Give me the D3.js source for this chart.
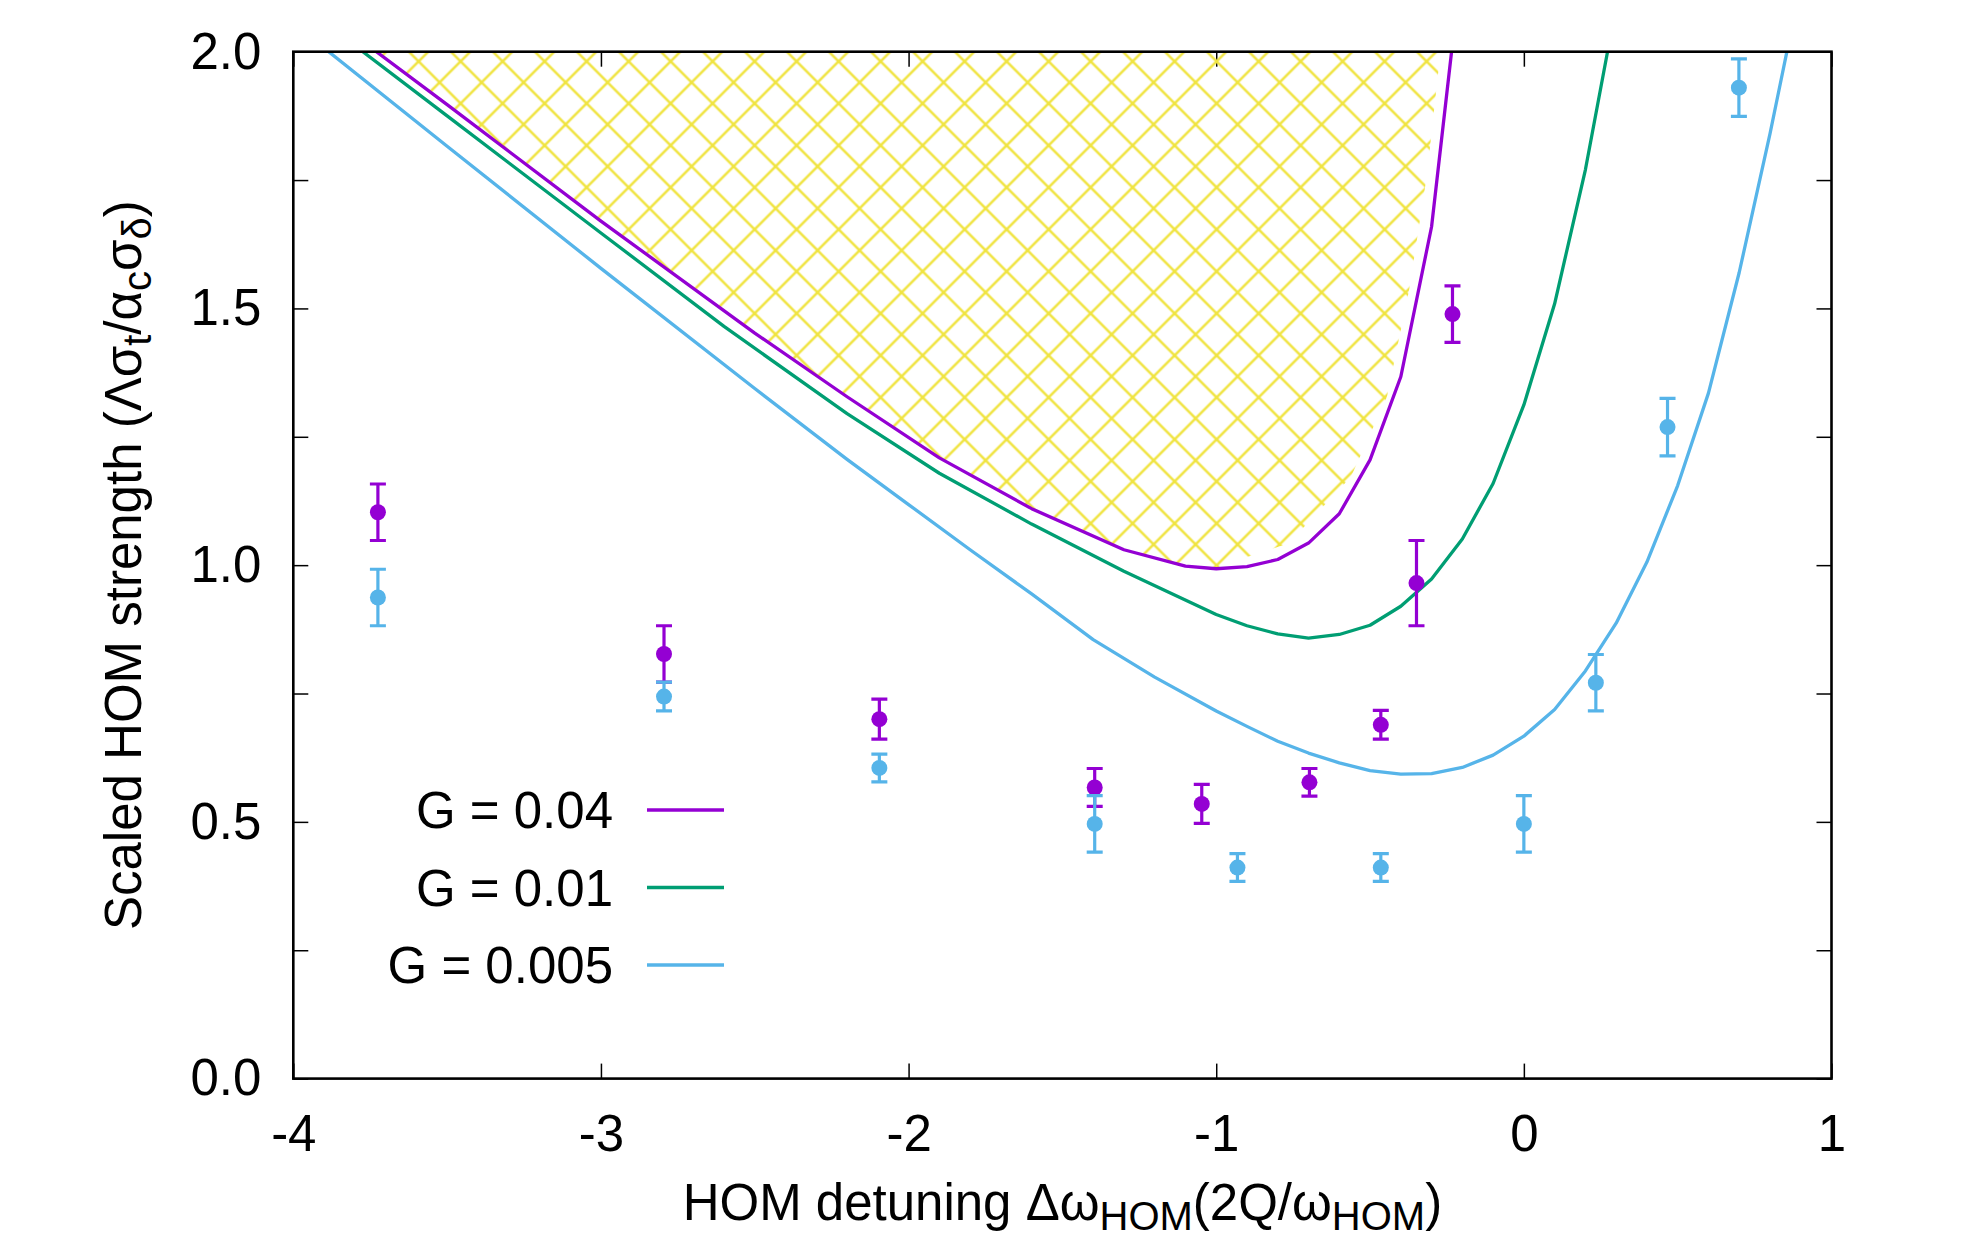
<!DOCTYPE html>
<meta charset="utf-8">
<style>
body { margin: 0; background: #fff; }
svg { display: block; }
text { font-family: "Liberation Sans", Arial, sans-serif; fill: #000; }
.axis path { display: none; }
.axis line { stroke: #000; stroke-width: 1.5; }
.axis text { font-size: 51px; }
.frame { fill: none; stroke: #000; stroke-width: 2.6; }
.curve { fill: none; stroke-width: 3.3; stroke-linejoin: round; }
.legend text { font-size: 51px; }
.title { font-size: 51px; }
</style>
<svg width="1973" height="1241"></svg>
<script src="https://d3js.org/d3.v7.min.js"></script>
<script>
// tick values
var xTicks = [-4, -3, -2, -1, 0, 1];
var yTicks = [0, 0.25, 0.5, 0.75, 1, 1.25, 1.5, 1.75, 2];

var legendLabels = ["G = 0.04", "G = 0.01", "G = 0.005"];
var colors = ["#9400d3", "#009e73", "#56b4e9"];

// model curves
var g04X = [-3.73, -3.5, -3.0, -2.5, -2.2, -1.9, -1.6, -1.3, -1.1, -1.0, -0.9, -0.8, -0.7, -0.6, -0.5, -0.4, -0.3, -0.235];
var g04Y = [2.0, 1.897, 1.670, 1.452, 1.328, 1.209, 1.110, 1.030, 0.998, 0.993, 0.997, 1.011, 1.043, 1.100, 1.205, 1.367, 1.659, 2.0];

var g01X = [-3.774, -3.5, -3.0, -2.6, -2.2, -1.9, -1.6, -1.3, -1.0, -0.9, -0.8, -0.7, -0.6, -0.5, -0.4, -0.3, -0.2, -0.1, 0.0, 0.1, 0.2, 0.272];
var g01Y = [2.0, 1.875, 1.647, 1.465, 1.295, 1.179, 1.080, 0.988, 0.904, 0.882, 0.866, 0.858, 0.865, 0.883, 0.920, 0.973, 1.051, 1.159, 1.312, 1.509, 1.77, 2.0];

var g005X = [-3.885, -3.5, -3.0, -2.5, -2.2, -2.0, -1.8, -1.6, -1.4, -1.2, -1.0, -0.9, -0.8, -0.7, -0.6, -0.5, -0.4, -0.3, -0.2, -0.1, 0.0, 0.1, 0.2, 0.3, 0.4, 0.5, 0.6, 0.7, 0.8, 0.855];
var g005Y = [2.0, 1.816, 1.578, 1.344, 1.206, 1.118, 1.030, 0.944, 0.855, 0.782, 0.716, 0.686, 0.657, 0.634, 0.615, 0.600, 0.593, 0.594, 0.606, 0.630, 0.667, 0.719, 0.794, 0.887, 1.006, 1.155, 1.335, 1.57, 1.84, 2.0];

// right edge of the hatched region
var hatchEdgeX = [-0.983, -0.765, -0.562, -0.445, -0.373, -0.315, -0.271];
var hatchEdgeY = [1.0, 1.042, 1.172, 1.328, 1.536, 1.76, 2.0];

// measurements
var pts04X = [-3.725, -2.795, -2.095, -1.395, -1.047, -0.697, -0.465, -0.349, -0.232];
var pts04Y = [1.103, 0.827, 0.700, 0.567, 0.535, 0.577, 0.689, 0.965, 1.489];
var pts04Err = [0.055, 0.055, 0.039, 0.037, 0.038, 0.027, 0.028, 0.083, 0.055];

var pts005X = [-3.725, -2.795, -2.095, -1.395, -0.931, -0.465, 0.0, 0.234, 0.467, 0.699];
var pts005Y = [0.937, 0.744, 0.605, 0.496, 0.411, 0.411, 0.496, 0.771, 1.269, 1.930];
var pts005Err = [0.055, 0.028, 0.027, 0.055, 0.027, 0.027, 0.055, 0.055, 0.056, 0.056];

var svg = d3.select("svg"),
  margin = {top: 51.7, right: 141.5, bottom: 162.4, left: 293.3},
  width = 1973 - margin.left - margin.right,
  height = 1241 - margin.top - margin.bottom;

var x = d3.scaleLinear().domain([-4, 1]).range([0, width]);
var y = d3.scaleLinear().domain([0, 2]).range([height, 0]);

var defs = svg.append("defs");
defs.append("clipPath").attr("id", "clip")
  .append("rect").attr("width", width).attr("height", height);

var pat = defs.append("pattern")
  .attr("id", "hatch")
  .attr("patternUnits", "userSpaceOnUse")
  .attr("x", margin.left).attr("y", margin.top)
  .attr("width", 42).attr("height", 42);
pat.append("path")
  .attr("d", "M-2,-2L44,44M-2,44L44,-2")
  .attr("stroke", "#f0e442")
  .attr("stroke-width", 2.6)
  .attr("fill", "none");

var g = svg.append("g")
  .attr("transform", "translate(" + margin.left + "," + margin.top + ")");

// axes, ticks inward on all four sides
var fmtY = function(d) { return (d * 2) % 1 === 0 ? d.toFixed(1) : ""; };

g.append("g").attr("class", "axis")
  .call(d3.axisLeft(y).tickValues(yTicks).tickFormat(fmtY)
    .tickSizeInner(-15).tickSizeOuter(0).tickPadding(32));
g.append("g").attr("class", "axis")
  .attr("transform", "translate(" + width + ",0)")
  .call(d3.axisRight(y).tickValues(yTicks).tickFormat("")
    .tickSizeInner(-15).tickSizeOuter(0));
g.append("g").attr("class", "axis")
  .attr("transform", "translate(0," + height + ")")
  .call(d3.axisBottom(x).tickValues(xTicks).tickFormat(function(d) { return String(d); })
    .tickSizeInner(-15).tickSizeOuter(0).tickPadding(36));
g.append("g").attr("class", "axis")
  .call(d3.axisTop(x).tickValues(xTicks).tickFormat("")
    .tickSizeInner(-15).tickSizeOuter(0));

var plot = g.append("g").attr("clip-path", "url(#clip)");

// hatched region: above the G = 0.04 curve, closed by its own right edge
var hatchPts = [];
g04X.forEach(function(v, i) { if (v <= -1.0) hatchPts.push([v, g04Y[i]]); });
hatchEdgeX.forEach(function(v, i) { hatchPts.push([v, hatchEdgeY[i]]); });
hatchPts.push([hatchEdgeX[hatchEdgeX.length - 1], 2.1]);
hatchPts.push([g04X[0], 2.1]);

plot.append("path")
  .attr("d", "M" + hatchPts.map(function(p) { return [x(p[0]), y(p[1])]; }).join("L") + "Z")
  .attr("fill", "url(#hatch)");

var line = d3.line()
  .x(function(d) { return x(d[0]); })
  .y(function(d) { return y(d[1]); });

var curves = [[g005X, g005Y, colors[2]], [g01X, g01Y, colors[1]], [g04X, g04Y, colors[0]]];
curves.forEach(function(c) {
  plot.append("path")
    .attr("class", "curve")
    .attr("stroke", c[2])
    .attr("d", line(c[0].map(function(v, i) { return [v, c[1][i]]; })));
});

// error bars with points
function drawPoints(xs, ys, errs, color) {
  var pg = g.append("g");
  xs.forEach(function(v, i) {
    var cx = x(v), lo = y(ys[i] - errs[i]), hi = y(ys[i] + errs[i]);
    pg.append("path")
      .attr("d", "M" + cx + "," + lo + "V" + hi +
        "M" + (cx - 8) + "," + lo + "H" + (cx + 8) +
        "M" + (cx - 8) + "," + hi + "H" + (cx + 8))
      .attr("stroke", color).attr("stroke-width", 3.2).attr("fill", "none");
    pg.append("circle")
      .attr("cx", cx).attr("cy", y(ys[i])).attr("r", 8)
      .attr("fill", color);
  });
}
drawPoints(pts04X, pts04Y, pts04Err, colors[0]);
drawPoints(pts005X, pts005Y, pts005Err, colors[2]);

g.append("rect").attr("class", "frame")
  .attr("width", width).attr("height", height);

// legend
var legend = svg.append("g").attr("class", "legend");
legendLabels.forEach(function(t, i) {
  var ly = 810 + i * 77.5;
  legend.append("text")
    .attr("x", 613).attr("y", ly + 18)
    .attr("text-anchor", "end")
    .text(t);
  legend.append("line")
    .attr("x1", 647).attr("x2", 724)
    .attr("y1", ly).attr("y2", ly)
    .attr("stroke", colors[i]).attr("stroke-width", 3.3);
});

// axis titles
var xt = svg.append("text").attr("class", "title")
  .attr("x", margin.left + width / 2).attr("y", 1220)
  .attr("text-anchor", "middle");
xt.append("tspan").text("HOM detuning \u0394\u03c9");
xt.append("tspan").attr("dy", 10).attr("font-size", 40).text("HOM");
xt.append("tspan").attr("dy", -10).text("(2Q/\u03c9");
xt.append("tspan").attr("dy", 10).attr("font-size", 40).text("HOM");
xt.append("tspan").attr("dy", -10).text(")");

var yt = svg.append("text").attr("class", "title")
  .attr("transform", "translate(141," + (margin.top + height / 2) + ") rotate(-90)")
  .attr("text-anchor", "middle");
yt.append("tspan").text("Scaled HOM strength (\u039b\u03c3");
yt.append("tspan").attr("dy", 10).attr("font-size", 40).text("t");
yt.append("tspan").attr("dy", -10).text("/\u03b1");
yt.append("tspan").attr("dy", 10).attr("font-size", 40).text("c");
yt.append("tspan").attr("dy", -10).text("\u03c3");
yt.append("tspan").attr("dy", 10).attr("font-size", 40).text("\u03b4");
yt.append("tspan").attr("dy", -10).text(")");
</script>
